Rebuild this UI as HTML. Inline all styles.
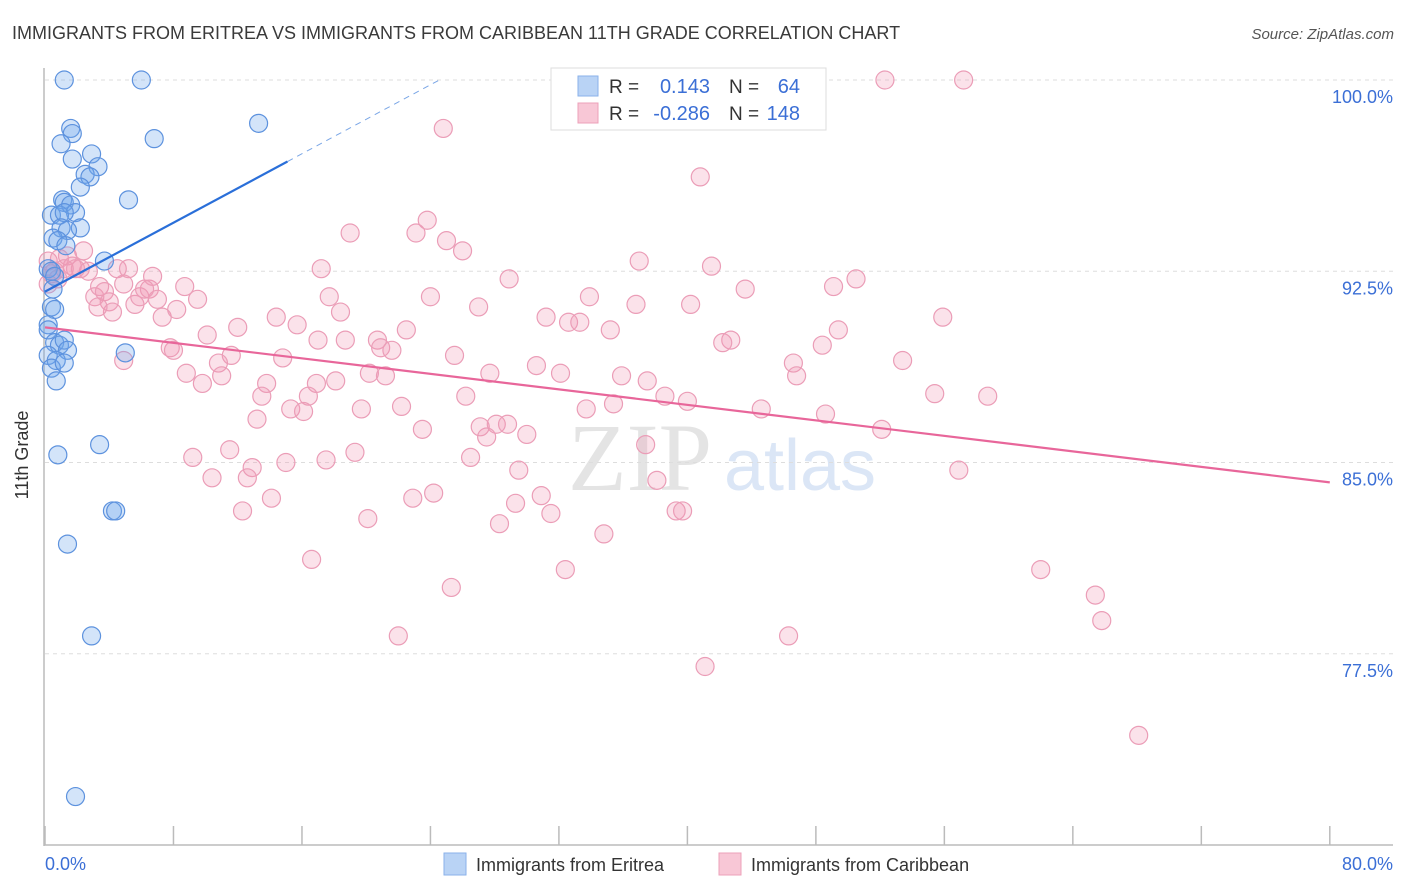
<!DOCTYPE html>
<html><head><meta charset="utf-8"><style>
body{margin:0;background:#fff;font-family:"Liberation Sans",sans-serif;}
#wrap{position:relative;width:1406px;height:892px;overflow:hidden;}
</style></head><body>
<div id="wrap">
<svg id="chart" width="1406" height="892" style="position:absolute;left:0;top:0">
<text x="12" y="39" font-size="18" fill="#3a3a3a">IMMIGRANTS FROM ERITREA VS IMMIGRANTS FROM CARIBBEAN 11TH GRADE CORRELATION CHART</text>
<text x="1394" y="39" font-size="15" fill="#555" font-style="italic" text-anchor="end">Source: ZipAtlas.com</text>
<text x="640" y="490" font-size="96" fill="#e4e4e4" font-family="Liberation Serif,serif" text-anchor="middle">ZIP</text>
<text x="800" y="490" font-size="72" fill="#dbe6f6" text-anchor="middle">atlas</text>
<g id="grid"></g><g id="axes"></g><g id="pts"></g><g id="trend"></g>
<text x="28" y="455" font-size="18" fill="#333" text-anchor="middle" transform="rotate(-90 28 455)">11th Grade</text>
<text x="45" y="870" font-size="18" fill="#3b6fd6">0.0%</text>
<text x="1393" y="870" font-size="18" fill="#3b6fd6" text-anchor="end">80.0%</text>
<g>
<rect x="551" y="68" width="275" height="62" fill="#fff" stroke="#ddd"/>
<rect x="578" y="76" width="20" height="20" fill="#b9d3f5" stroke="#8ab2ea"/>
<rect x="578" y="103" width="20" height="20" fill="#f8c7d6" stroke="#eda0b9"/>
<text x="609" y="93" font-size="19" fill="#333">R =</text>
<text x="710" y="93" font-size="20" fill="#3b6fd6" text-anchor="end">0.143</text>
<text x="729" y="93" font-size="19" fill="#333">N =</text>
<text x="800" y="93" font-size="20" fill="#3b6fd6" text-anchor="end">64</text>
<text x="609" y="120" font-size="19" fill="#333">R =</text>
<text x="710" y="120" font-size="20" fill="#3b6fd6" text-anchor="end">-0.286</text>
<text x="729" y="120" font-size="19" fill="#333">N =</text>
<text x="800" y="120" font-size="20" fill="#3b6fd6" text-anchor="end">148</text>
</g>
<g>
<rect x="444" y="853" width="22" height="22" fill="#b9d3f5" stroke="#8ab2ea"/>
<text x="476" y="871" font-size="18" fill="#333">Immigrants from Eritrea</text></g>
<g>
<rect x="719" y="853" width="22" height="22" fill="#f8c7d6" stroke="#eda0b9"/>
<text x="751" y="871" font-size="18" fill="#333">Immigrants from Caribbean</text></g>
</svg>
</div>
<script>
const yTicks=[100,92.5,85,77.5];
const yTickLabels=["100.0%","92.5%","85.0%","77.5%"];
const xTicks=[0,8,16,24,32,40,48,56,64,72,80];
const blueX=[1.2,6.0,13.3,6.8,1.6,1.7,1.0,2.9,1.7,3.3,2.5,2.8,2.2,5.2,1.1,1.2,1.6,1.9,0.4,0.9,1.2,2.2,1.0,1.4,0.5,0.8,1.3,3.7,0.2,0.4,0.6,0.5,0.4,0.6,0.2,0.2,0.6,0.9,1.2,1.4,0.2,0.7,0.4,0.7,5.0,3.4,0.8,4.2,4.4,1.4,2.9,1.9,1.2];
const blueY=[100,100,98.3,97.7,98.1,97.9,97.5,97.1,96.9,96.6,96.3,96.2,95.8,95.3,95.3,95.2,95.1,94.8,94.7,94.7,94.8,94.2,94.2,94.1,93.8,93.7,93.5,92.9,92.6,92.5,92.3,91.8,91.1,91.0,90.4,90.2,89.7,89.6,89.8,89.4,89.2,89.0,88.7,88.2,89.3,85.7,85.3,83.1,83.1,81.8,78.2,71.9,88.9];
const pinkX=[52.3,57.2,24.8,40.8,23.8,23.1,25.0,19.0,26.0,37.0,41.5,17.2,28.9,50.5,49.1,43.6,24.0,33.9,36.8,40.2,17.7,18.4,27.0,31.2,32.6,33.3,35.2,55.9,15.7,12.0,14.4,22.5,20.7,18.7,17.0,49.4,48.4,42.7,42.2,25.5,20.9,21.6,30.6,20.2,21.2,27.7,32.1,14.8,11.6,10.8,7.8,8.0,4.9,8.8,9.8,11.0,13.8,16.9,18.1,53.4,46.6,46.8,35.9,37.5,38.6,40.0,26.2,16.4,13.5,22.2,19.7,33.7,35.4,44.6,48.6,55.4,58.7,15.3,16.1,13.2,23.5,27.1,28.1,28.8,27.5,30.0,52.1,37.4,11.5,9.2,17.5,19.3,26.5,15.0,12.9,10.4,12.6,29.5,38.1,56.9,24.2,22.9,30.9,14.1,29.3,12.3,20.1,28.3,31.5,39.3,39.7,34.8,16.6,32.4,62.0,25.3,65.4,65.8,22.0,46.3,41.1,68.1,0.2,0.6,0.9,1.4,1.7,2.2,2.7,2.4,3.1,3.4,3.7,4.0,4.2,4.5,5.2,5.6,5.9,6.5,6.7,7.0,7.3,8.2,8.7,9.5,10.1,6.2,0.2,0.4,0.8,1.2,1.9,3.3,4.9];
const pinkY=[100,100,98.1,96.2,94.5,94.0,93.7,94.0,93.3,92.9,92.7,92.6,92.2,92.2,91.9,91.8,91.5,91.5,91.2,91.2,91.5,90.9,91.1,90.7,90.5,90.5,90.2,90.7,90.4,90.3,90.7,90.2,89.8,89.8,89.8,90.2,89.6,89.8,89.7,89.2,89.5,89.4,88.8,88.5,88.4,88.5,88.5,89.1,89.2,88.9,89.5,89.4,89.0,88.5,88.1,88.4,88.1,88.1,88.2,89.0,88.9,88.4,88.4,88.2,87.6,87.4,87.6,87.6,87.6,87.2,87.1,87.1,87.3,87.1,86.9,87.7,87.6,87.1,87.0,86.7,86.3,86.4,86.5,86.5,86.0,86.1,86.3,85.7,85.5,85.2,85.1,85.4,85.2,85.0,84.8,84.4,84.4,84.7,84.3,84.7,83.8,83.6,83.7,83.6,83.4,83.1,82.8,82.6,83.0,83.1,83.1,82.2,81.2,80.8,80.8,80.1,79.8,78.8,78.2,78.2,77.0,74.3,92.9,92.5,93.0,93.1,92.7,92.6,92.5,93.3,91.5,91.9,91.7,91.3,90.9,92.6,92.6,91.2,91.5,91.8,92.3,91.4,90.7,91.0,91.9,91.4,90.0,91.8,92.0,92.4,92.2,92.6,92.6,91.1,92.0];
const blueTrend=[91.7,0.338];   // intercept, slope per %
const pinkTrend=[90.3,-0.076];
const NS="http://www.w3.org/2000/svg";
const X=v=>45+v*16.06, Y=v=>80+(100-v)*25.5;
function mk(tag,attrs,parent){const e=document.createElementNS(NS,tag);for(const k in attrs)e.setAttribute(k,attrs[k]);parent.appendChild(e);return e;}
const grid=document.getElementById('grid'),axes=document.getElementById('axes'),pts=document.getElementById('pts'),tr=document.getElementById('trend');
yTicks.forEach((t,i)=>{
 const l=mk('line',{x1:45,x2:1393,y1:Y(t),y2:Y(t),stroke:'#ddd','stroke-dasharray':'4,4'},grid);
 
 
 const tx=mk('text',{x:1393,y:Y(t)+23,'font-size':18,fill:'#3b6fd6','text-anchor':'end'},grid);
 tx.textContent=yTickLabels[i];
 
 
});
const ya=mk('line',{x1:44,x2:44,y1:68,y2:846,stroke:'#bbb','stroke-width':1.5},axes);


const xa=mk('line',{x1:44,x2:1393,y1:845,y2:845,stroke:'#bbb','stroke-width':1.5},axes);


xTicks.forEach(t=>{
 const l=mk('line',{x1:X(t),x2:X(t),y1:826,y2:845,stroke:'#bbb','stroke-width':1.5},axes);
 
 
});
pinkX.forEach((x,i)=>{
 const c=mk('circle',{cx:X(x),cy:Y(pinkY[i]),r:9,fill:'rgba(242,150,180,0.28)',stroke:'#eb9db7','stroke-width':1.2},pts);
 
 
});
blueX.forEach((x,i)=>{
 const c=mk('circle',{cx:X(x),cy:Y(blueY[i]),r:9,fill:'rgba(110,165,235,0.3)',stroke:'#5d92de','stroke-width':1.2},pts);
 
 
});
const bx1=15.1, bx2=(100-blueTrend[0])/blueTrend[1];
const b1=mk('line',{x1:X(0),y1:Y(blueTrend[0]),x2:X(bx1),y2:Y(blueTrend[0]+blueTrend[1]*bx1),stroke:'#2a6fd9','stroke-width':2.2},tr);


const b2=mk('line',{x1:X(bx1),y1:Y(blueTrend[0]+blueTrend[1]*bx1),x2:X(bx2),y2:Y(100),stroke:'#7aa6e6','stroke-width':1,'stroke-dasharray':'6,5'},tr);


const p1=mk('line',{x1:X(0),y1:Y(pinkTrend[0]),x2:X(80),y2:Y(pinkTrend[0]+pinkTrend[1]*80),stroke:'#e8669a','stroke-width':2.2},tr);


</script>
</body></html>
